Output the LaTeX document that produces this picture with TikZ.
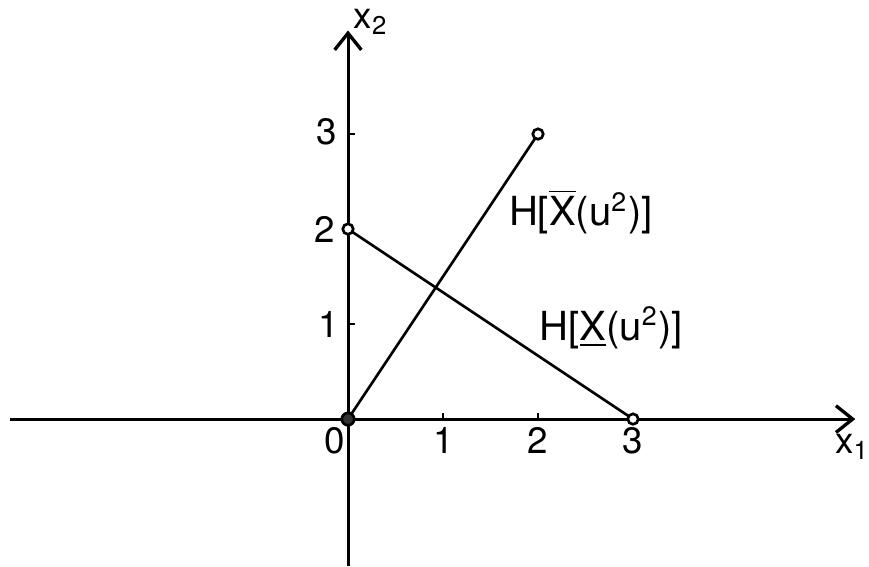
\documentclass[tikz,border=0pt]{standalone}
\usepackage{fontspec}
\setmainfont{TeX Gyre Heros}
\usetikzlibrary{arrows.meta}
\begin{document}
\begin{tikzpicture}[x=1cm,y=1cm,
  axis/.style={line width=0.9pt,-{Straight Barb[length=5pt,width=8pt,line width=1pt]}},
  seg/.style={line width=0.8pt},
  tickmark/.style={line width=0.8pt},
  endpt/.style={circle,draw,line width=0.8pt,fill=white,inner sep=0pt,minimum size=1.1mm},
  dotpt/.style={circle,draw,line width=0.8pt,fill=black!80,inner sep=0pt,minimum size=1.3mm},
  lbl/.style={font=\fontsize{11}{13}\selectfont,inner sep=1pt}]
\useasboundingbox (-3.663,-1.547) rectangle (5.484,4.411);
% axis end points
\coordinate (xl) at (-3.56,0);
\coordinate (xr) at (5.34,0);
\coordinate (yb) at (0,-1.55);
\coordinate (yt) at (0,4.09);
\draw[axis] (xl) -- (xr);
\draw[axis] (yb) -- (yt);
% ticks
\foreach \i in {1,2}{\coordinate (tx\i) at (\i,0); \draw[tickmark] (tx\i) -- ++(0,0.06);}
\foreach \j in {1,3}{\coordinate (ty\j) at (0,\j); \draw[tickmark] (ty\j) -- ++(0.07,0);}
% segments
\coordinate (O) at (0,0);
\coordinate (A) at (2,3);
\coordinate (B) at (0,2);
\coordinate (C) at (3,0);
\draw[seg] (O) -- (A);
\draw[seg] (B) -- (C);
\node[endpt] (nA) at (A) {};
\node[endpt] (nB) at (B) {};
\node[endpt] (nC) at (C) {};
\node[dotpt] (nO) at (O) {};
% tick labels
\node[lbl] (l0) at (-0.14,-0.23) {0};
\node[lbl] (l1) at (1.01,-0.23) {1};
\node[lbl] (l2) at (2.0,-0.23) {2};
\node[lbl] (l3) at (3.0,-0.23) {3};
\node[lbl] (m1) at (-0.2,1.0) {1};
\node[lbl] (m2) at (-0.24,2.0) {2};
\node[lbl] (m3) at (-0.22,3.02) {3};
% axis labels
\node[lbl] (x2) at (0.24,4.18) {x\textsubscript{2}};
\node[lbl] (x1) at (5.31,-0.29) {x\textsubscript{1}};
% curve labels
\node[lbl,font=\fontsize{12}{14}\selectfont] (h1) at (2.45,2.18) {H[$\overline{\mbox{X}}$(u\textsuperscript{2})]};
\node[lbl,font=\fontsize{12}{14}\selectfont] (h2) at (2.77,0.96) {H[\underline{X}(u\textsuperscript{2})]};
\end{tikzpicture}
\end{document}
